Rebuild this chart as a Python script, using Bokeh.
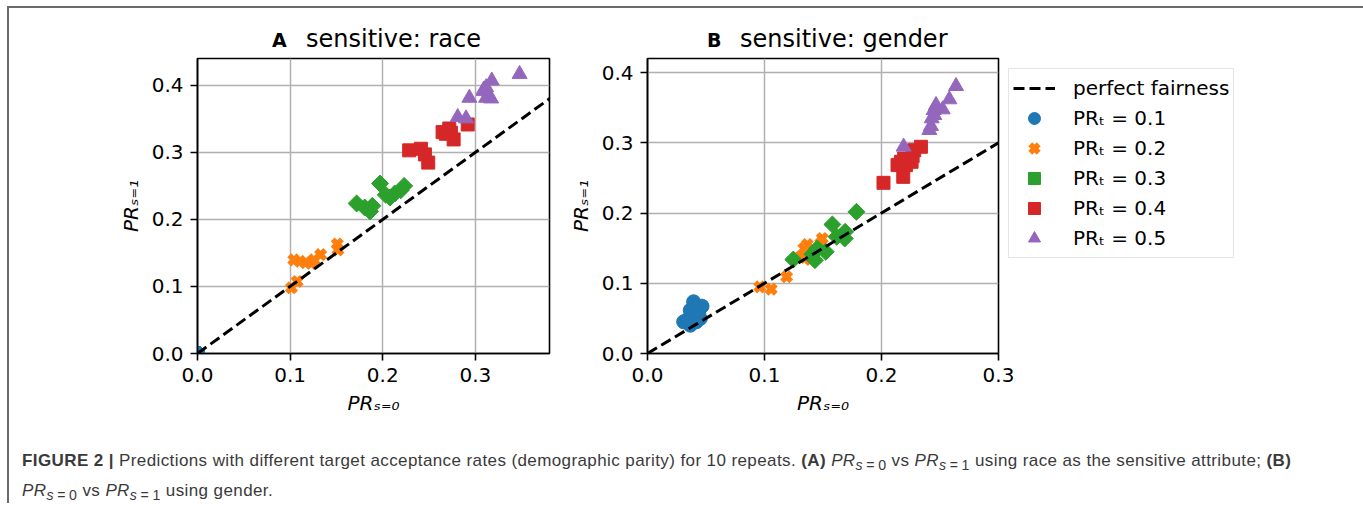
from bokeh.plotting import figure
from bokeh.models import Range1d, Legend, LegendItem, Div, PrintfTickFormatter
from bokeh.layouts import row, column
from bokeh.embed import file_html
from bokeh.resources import INLINE

# ---------------- data ----------------
tab = ["#1f77b4", "#ff7f0e", "#2ca02c", "#d62728", "#9467bd"]
pr_targets = ["0.1", "0.2", "0.3", "0.4", "0.5"]

# Panel A: sensitive = race
a_x_01 = [0.0, 0.0, 0.0, 0.0, 0.0, 0.0, 0.0, 0.0, 0.0, 0.0]
a_y_01 = [0.0, 0.0, 0.0, 0.0, 0.0, 0.0, 0.0, 0.0, 0.0, 0.0]
a_x_02 = [0.1014, 0.1076, 0.1040, 0.1105, 0.1166, 0.1227, 0.1256, 0.1329, 0.1509, 0.1516]
a_y_02 = [0.0980, 0.1074, 0.1396, 0.1376, 0.1356, 0.1347, 0.1396, 0.1475, 0.1634, 0.1545]
a_x_03 = [0.1718, 0.1805, 0.1863, 0.1888, 0.1971, 0.2032, 0.2079, 0.2130, 0.2195, 0.2231]
a_y_03 = [0.2238, 0.2178, 0.2119, 0.2203, 0.2535, 0.2366, 0.2327, 0.2386, 0.2436, 0.2500]
a_x_04 = [0.2285, 0.2412, 0.2455, 0.2491, 0.2646, 0.2718, 0.2682, 0.2765, 0.2736, 0.2917]
a_y_04 = [0.3030, 0.3054, 0.2970, 0.2847, 0.3302, 0.3356, 0.3277, 0.3193, 0.3292, 0.3416]
a_x_05 = [0.2809, 0.2899, 0.2935, 0.3090, 0.3116, 0.3177, 0.3116, 0.3170, 0.3477, 0.3090]
a_y_05 = [0.3525, 0.3505, 0.3812, 0.3936, 0.3970, 0.4069, 0.3812, 0.3802, 0.4168, 0.3911]

# Panel B: sensitive = gender
b_x_01 = [0.0309, 0.0366, 0.0417, 0.0394, 0.0466, 0.0366, 0.0437, 0.0389, 0.0343, 0.0451]
b_y_01 = [0.0451, 0.0403, 0.0451, 0.0736, 0.0674, 0.0617, 0.0570, 0.0522, 0.0484, 0.0498]
b_x_02 = [0.0960, 0.1057, 0.1189, 0.1303, 0.1366, 0.1494, 0.1394, 0.1423, 0.1337, 0.1480]
b_y_02 = [0.0949, 0.0916, 0.1092, 0.1367, 0.1552, 0.1637, 0.1338, 0.1471, 0.1495, 0.1566]
b_x_03 = [0.1246, 0.1409, 0.1451, 0.1431, 0.1523, 0.1580, 0.1617, 0.1689, 0.1686, 0.1786]
b_y_03 = [0.1338, 0.1414, 0.1495, 0.1329, 0.1448, 0.1837, 0.1661, 0.1732, 0.1637, 0.2017]
b_x_04 = [0.2017, 0.2137, 0.2186, 0.2194, 0.2257, 0.2266, 0.2337, 0.2209, 0.2166, 0.2280]
b_y_04 = [0.2430, 0.2682, 0.2515, 0.2776, 0.2729, 0.2810, 0.2943, 0.2682, 0.2729, 0.2895]
b_x_05 = [0.2189, 0.2423, 0.2429, 0.2446, 0.2466, 0.2523, 0.2580, 0.2637, 0.2451, 0.2409]
b_y_05 = [0.2943, 0.3237, 0.3346, 0.3465, 0.3536, 0.3474, 0.3617, 0.3806, 0.3393, 0.3180]

fair_x = [0.0, 0.5]
fair_y = [0.0, 0.5]

a_ticks_x = [0.0, 0.1, 0.2, 0.3]
a_ticks_y = [0.0, 0.1, 0.2, 0.3, 0.4]
b_ticks_x = [0.0, 0.1, 0.2, 0.3]
b_ticks_y = [0.0, 0.1, 0.2, 0.3, 0.4]

panel_letters = ["A", "B"]
panel_titles = ["sensitive: race", "sensitive: gender"]

FONT = "DejaVu Sans"


def make_fig(xr, yr, fw, ml, mr, xt, yt):
    p = figure(frame_width=fw, frame_height=295, x_range=Range1d(*xr), y_range=Range1d(*yr),
               min_border_left=ml, min_border_right=mr, min_border_top=4, min_border_bottom=70,
               output_backend="svg", toolbar_location=None, background_fill_color="white",
               border_fill_color="white")
    p.title.text = ""
    p.outline_line_color = "black"
    p.outline_line_width = 1.6
    p.outline_line_alpha = 1.0
    for ax in (p.xaxis[0], p.yaxis[0]):
        ax.major_label_text_font = FONT
        ax.major_label_text_font_size = "20px"
        ax.major_label_text_color = "black"
        ax.major_tick_out = 7
        ax.major_tick_in = 0
        ax.major_tick_line_width = 1.6
        ax.major_tick_line_color = "black"
        ax.minor_tick_line_color = None
        ax.axis_line_color = "black"
        ax.axis_line_width = 1.6
        ax.major_label_standoff = 7
        ax.axis_label_text_font = FONT
        ax.axis_label_text_font_size = "20px"
        ax.axis_label_text_font_style = "italic"
        ax.axis_label_text_color = "black"
        ax.formatter = PrintfTickFormatter(format="%.1f")
    p.xaxis.ticker = xt
    p.yaxis.ticker = yt
    p.xaxis.axis_label = "PR\u209b\u208c\u2080"
    p.yaxis.axis_label = "PR\u209b\u208c\u2081"
    p.xaxis.axis_label_standoff = 6
    p.yaxis.axis_label_standoff = 6
    p.grid.grid_line_color = "#b0b0b0"
    p.grid.grid_line_width = 1.5
    return p


def add_points(p, xs, ys):
    rs = []
    rs.append(p.scatter(xs[0], ys[0], marker="circle", size=14, fill_color=tab[0], line_color=tab[0]))
    rs.append(p.scatter(xs[1], ys[1], marker="x", size=13, line_color=tab[1], line_width=5.5))
    rs.append(p.scatter(xs[2], ys[2], marker="square", size=12, angle=0.785398, fill_color=tab[2], line_color=tab[2]))
    rs.append(p.scatter(xs[3], ys[3], marker="square", size=13, fill_color=tab[3], line_color=tab[3]))
    rs.append(p.scatter(xs[4], ys[4], marker="triangle", size=15, fill_color=tab[4], line_color=tab[4]))
    line = p.line(fair_x, fair_y, line_color="black", line_width=3, line_dash="11 5")
    return rs, line


pa = make_fig((0, 0.38), (0, 0.44), 352, 188, 11, a_ticks_x, a_ticks_y)
add_points(pa, [a_x_01, a_x_02, a_x_03, a_x_04, a_x_05], [a_y_01, a_y_02, a_y_03, a_y_04, a_y_05])

pb = make_fig((0, 0.3), (0, 0.42), 351, 87, 354, b_ticks_x, b_ticks_y)
rsb, lineb = add_points(pb, [b_x_01, b_x_02, b_x_03, b_x_04, b_x_05], [b_y_01, b_y_02, b_y_03, b_y_04, b_y_05])

items = [LegendItem(label="perfect fairness", renderers=[lineb])]
for r, t in zip(rsb, pr_targets):
    items.append(LegendItem(label="PR\u209c = " + t, renderers=[r]))
legend = Legend(items=items, location="top_left")
legend.label_text_font = FONT
legend.label_text_font_size = "20px"
legend.label_text_color = "black"
legend.glyph_width = 42
legend.glyph_height = 30
legend.label_height = 30
legend.spacing = 0
legend.padding = 4
legend.margin = 10
legend.label_standoff = 18
legend.border_line_color = "#cccccc"
legend.border_line_width = 1.5
legend.background_fill_alpha = 1.0
pb.add_layout(legend, "right")


def span(txt, left, top, size, weight, lh):
    return ('<span style="position:absolute;left:%dpx;top:%dpx;font-size:%dpx;font-weight:%s;'
            'line-height:%dpx;white-space:nowrap">%s</span>' % (left, top, size, weight, lh, txt))


titles_html = ('<div style="position:relative;width:1343px;height:46px;font-family:\'DejaVu Sans\';color:black">'
               + span(panel_letters[0], 263, 23, 19, "bold", 19)
               + span(panel_titles[0], 297, 19, 24, "normal", 24)
               + span(panel_letters[1], 698, 23, 19, "bold", 19)
               + span(panel_titles[1], 731, 19, 24, "normal", 24)
               + '</div>')
titles = Div(text=titles_html, width=1343, height=46, margin=0)

caption_html = (
    "<b>FIGURE 2 |</b> Predictions with different target acceptance rates (demographic parity) for 10 repeats. "
    "<b>(A)</b> <i>PR</i><sub><i>s</i>&thinsp;=&thinsp;0</sub> vs <i>PR</i><sub><i>s</i>&thinsp;=&thinsp;1</sub> using race as the sensitive attribute; "
    "<b>(B)</b><br><i>PR</i><sub><i>s</i>&thinsp;=&thinsp;0</sub> vs <i>PR</i><sub><i>s</i>&thinsp;=&thinsp;1</sub> using gender."
)
caption = Div(text=caption_html, width=1343, height=80, margin=0,
              styles={"font-family": "'Liberation Sans', Arial, sans-serif",
                      "font-size": "17px", "color": "#3a3a3a", "letter-spacing": "0.4px",
                      "line-height": "25px", "padding-left": "13px", "padding-top": "25px",
                      "white-space": "nowrap", "box-sizing": "border-box"})

layout = column(titles, row(pa, pb), caption,
                styles={"border-top": "2px solid #6a6a6a", "border-left": "2px solid #6a6a6a",
                        "border-right": "2px solid #6a6a6a", "margin-left": "7px", "margin-top": "6px",
                        "background-color": "white"})

open("out.html", "w").write(file_html(layout, INLINE))
